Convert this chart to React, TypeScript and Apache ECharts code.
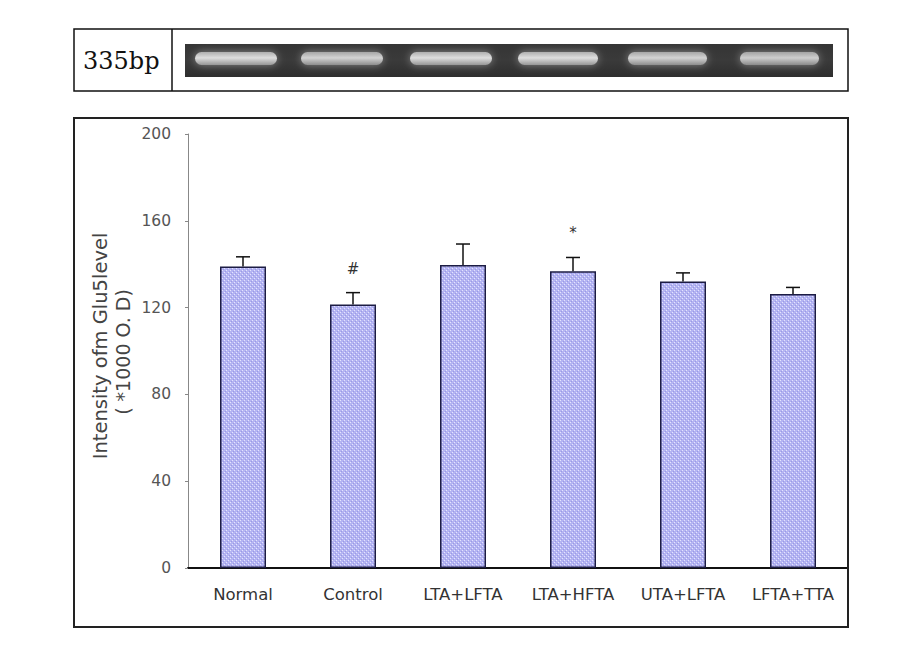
import React, { useEffect, useRef } from "react";
import * as echarts from "echarts";

const categories = ["Normal", "Control", "LTA+LFTA", "LTA+HFTA", "UTA+LFTA", "LFTA+TTA"];
const means = [138.9, 121.4, 139.6, 136.7, 132.0, 126.3];
const errors = [4.5, 5.5, 9.7, 6.4, 4.0, 3.0];
const marks = ["", "#", "", "*", "", ""];
const yTicks = { min: 0, max: 200, interval: 40 };
const bandLabel = "335bp";
// gel band layout (image decoration): [x0, x1, brightness]
const gelBands: [number, number, number][] = [
  [195, 277, 1.0],
  [301, 383, 0.95],
  [410, 492, 1.0],
  [518, 598, 1.0],
  [628, 707, 0.95],
  [740, 819, 0.93],
];

function makePattern(): HTMLCanvasElement {
  const c = document.createElement("canvas");
  c.width = 4;
  c.height = 4;
  const ctx = c.getContext("2d")!;
  ctx.fillStyle = "#b4b4f2";
  ctx.fillRect(0, 0, 4, 4);
  ctx.fillStyle = "#e4e4fe";
  ctx.fillRect(0, 0, 1, 1);
  ctx.fillRect(2, 2, 1, 1);
  ctx.fillStyle = "#9a9ae6";
  ctx.fillRect(1, 3, 1, 1);
  ctx.fillRect(3, 1, 1, 1);
  return c;
}

export default function App() {
  const ref = useRef<HTMLDivElement>(null);
  useEffect(() => {
    if (!ref.current) return;
    const chart = echarts.init(ref.current, undefined, { renderer: "svg" });
    const pattern = makePattern();

    const gelElements: any[] = [
      {
        type: "rect",
        shape: { x: 185, y: 44, width: 648, height: 33 },
        style: {
          fill: new echarts.graphic.LinearGradient(0, 0, 0, 1, [
            { offset: 0, color: "#353535" },
            { offset: 0.5, color: "#3a3a3a" },
            { offset: 1, color: "#2e2e2e" },
          ]),
        },
        z: 1,
      },
    ];
    gelBands.forEach(([x0, x1, b]) => {
      const hi = Math.round(222 * b);
      const mid = Math.round(175 * b);
      gelElements.push({
        type: "rect",
        shape: { x: x0, y: 52, width: x1 - x0, height: 13, r: 6.5 },
        style: {
          fill: new echarts.graphic.LinearGradient(0, 0, 0, 1, [
            { offset: 0, color: `rgb(${mid},${mid},${mid})` },
            { offset: 0.45, color: `rgb(${hi},${hi},${hi})` },
            { offset: 1, color: `rgb(${mid - 25},${mid - 25},${mid - 25})` },
          ]),
          shadowBlur: 8,
          shadowColor: "rgba(170,170,170,0.7)",
        },
        z: 2,
      });
    });

    const option: any = {
      animation: false,
      backgroundColor: "#ffffff",
      grid: { left: 188, right: 59, top: 134, bottom: 80, containLabel: false },
      xAxis: {
        type: "category",
        data: categories,
        axisLine: { lineStyle: { color: "#111", width: 2 } },
        axisTick: { inside: true, length: 4, lineStyle: { color: "#666" } },
        axisLabel: {
          color: "#333",
          fontFamily: "DejaVu Sans",
          fontSize: 16.5,
          margin: 18,
        },
      },
      yAxis: {
        type: "value",
        min: yTicks.min,
        max: yTicks.max,
        interval: yTicks.interval,
        axisLine: { show: true, lineStyle: { color: "#888", width: 1 } },
        axisTick: { show: true, length: 3, lineStyle: { color: "#888" } },
        splitLine: { show: false },
        axisLabel: {
          color: "#555",
          fontFamily: "DejaVu Sans",
          fontSize: 15.5,
          margin: 17,
        },
      },
      graphic: [
        {
          type: "rect",
          shape: { x: 74, y: 29, width: 774, height: 62 },
          style: { fill: "#fff", stroke: "#111", lineWidth: 1.5 },
          z: 0,
        },
        {
          type: "line",
          shape: { x1: 172, y1: 29, x2: 172, y2: 91 },
          style: { stroke: "#111", lineWidth: 1.5 },
          z: 1,
        },
        {
          type: "text",
          x: 83,
          y: 61,
          style: {
            text: bandLabel,
            fontFamily: "DejaVu Serif",
            fontSize: 24,
            fill: "#111",
            verticalAlign: "middle",
          },
          z: 2,
        },
        ...gelElements,
        {
          type: "rect",
          shape: { x: 74, y: 118, width: 774, height: 509 },
          style: { fill: "none", stroke: "#222", lineWidth: 2 },
          z: 10,
        },
        {
          type: "text",
          x: 100,
          y: 346,
          rotation: Math.PI / 2,
          style: {
            text: "Intensity ofm Glu5level",
            fontFamily: "DejaVu Sans",
            fontSize: 19.5,
            fill: "#444",
            align: "center",
            verticalAlign: "middle",
          },
        },
        {
          type: "text",
          x: 123,
          y: 352,
          rotation: Math.PI / 2,
          style: {
            text: "( *1000 O. D)",
            fontFamily: "DejaVu Sans",
            fontSize: 19,
            fill: "#444",
            align: "center",
            verticalAlign: "middle",
          },
        },
      ],
      series: [
        {
          type: "bar",
          data: means,
          barWidth: 46,
          itemStyle: {
            color: { image: pattern, repeat: "repeat" },
            borderColor: "#1c1c44",
            borderWidth: 1.5,
          },
          z: 2,
        },
        {
          type: "custom",
          data: means.map((m, i) => [i, m, errors[i], marks[i]]),
          renderItem: (params: any, api: any) => {
            const i = api.value(0);
            const m = api.value(1);
            const e = api.value(2);
            const mark = marks[params.dataIndex];
            const p0 = api.coord([i, m]);
            const p1 = api.coord([i, m + e]);
            const children: any[] = [
              {
                type: "line",
                shape: { x1: p0[0], y1: p0[1], x2: p1[0], y2: p1[1] },
                style: { stroke: "#111", lineWidth: 1.5 },
              },
              {
                type: "line",
                shape: { x1: p1[0] - 7, y1: p1[1], x2: p1[0] + 7, y2: p1[1] },
                style: { stroke: "#111", lineWidth: 1.5 },
              },
            ];
            if (mark) {
              children.push({
                type: "text",
                x: p1[0],
                y: p1[1] - 24,
                style: {
                  text: mark,
                  fontFamily: "DejaVu Sans",
                  fontSize: 15,
                  fill: "#333",
                  align: "center",
                  verticalAlign: "middle",
                },
              });
            }
            return { type: "group", children };
          },
          z: 3,
        },
      ],
    };
    chart.setOption(option);
    return () => chart.dispose();
  }, []);
  return (
    <div
      ref={ref}
      style={{ position: "absolute", left: 0, top: 0, width: 907, height: 648 }}
    />
  );
}
